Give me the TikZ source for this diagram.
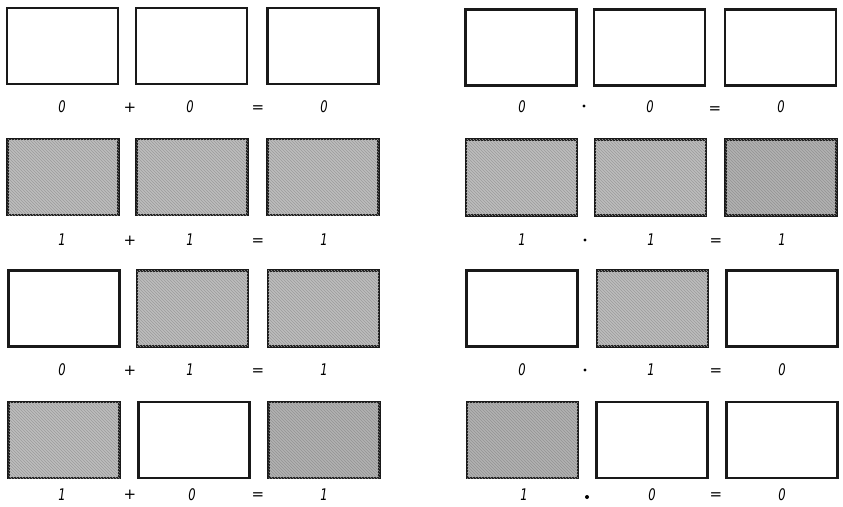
\documentclass[tikz,border=0pt]{standalone}
\usepackage{fontspec}
\newfontfamily\digitfont{DejaVu Sans}[FakeStretch=0.72]
\newfontfamily\opfont{DejaVu Sans}
\usetikzlibrary{patterns}
\begin{document}
\begin{tikzpicture}[x=1pt,y=-1pt,
  cell/.style={draw=black!90,line width=2.4pt,minimum width=111pt,minimum height=76pt,inner sep=0pt},
  on/.style={cell,fill=gray!52,postaction={pattern=north west lines,pattern color=gray!78}},
  ondark/.style={cell,fill=gray!60,postaction={pattern=north west lines,pattern color=gray!85}},
  off/.style={cell,fill=white},
  lbl/.style={font=\fontsize{16}{18}\selectfont\digitfont\itshape,inner sep=0pt},
  op/.style={font=\fontsize{15}{18}\selectfont\opfont,inner sep=0pt},
  dotop/.style={circle,fill=black,inner sep=0pt,minimum size=3.2pt}]
\useasboundingbox (0,0) rectangle (843,506);
% row 1
\node[off] (a11) at (62.5,46) {};
\node[off] (a12) at (191.5,46) {};
\node[off] (a13) at (323,46) {};
\node[off] (b11) at (521,47.5) {};
\node[off] (b12) at (649.5,47.5) {};
\node[off] (b13) at (780.5,47.5) {};
% row 2
\node[on] (a21) at (63,177) {};
\node[on] (a22) at (192,177) {};
\node[on] (a23) at (323,177) {};
\node[on] (b21) at (521.5,177.5) {};
\node[on] (b22) at (650.5,177.5) {};
\node[ondark] (b23) at (781,177.5) {};
% row 3
\node[off] (a31) at (64,308.5) {};
\node[on] (a32) at (192.5,308.5) {};
\node[on] (a33) at (323.5,308.5) {};
\node[off] (b31) at (522,308.5) {};
\node[on] (b32) at (652.5,308.5) {};
\node[off] (b33) at (782,308.5) {};
% row 4
\node[on] (a41) at (64,440) {};
\node[off] (a42) at (194,440) {};
\node[ondark] (a43) at (324,440) {};
\node[ondark] (b41) at (522.5,440) {};
\node[off] (b42) at (652,440) {};
\node[off] (b43) at (782,440) {};
% labels row 1
\node[lbl] (la11) at (62,107) {0};
\node[op]  (lp1)  at (130,108) {+};
\node[lbl] (la12) at (190,107) {0};
\node[op]  (le1)  at (258,109) {=};
\node[lbl] (la13) at (324,107) {0};
\node[lbl] (lb11) at (522,107) {0};
\node[dotop] (lm1) at (584,106) {};
\node[lbl] (lb12) at (650,107) {0};
\node[op]  (lf1)  at (715,110) {=};
\node[lbl] (lb13) at (781,107) {0};
% labels row 2
\node[lbl] (la21) at (62,240) {1};
\node[op]  (lp2)  at (130,241) {+};
\node[lbl] (la22) at (190,240) {1};
\node[op]  (le2)  at (258,242) {=};
\node[lbl] (la23) at (324,240) {1};
\node[lbl] (lb21) at (522,240) {1};
\node[dotop] (lm2) at (585,240) {};
\node[lbl] (lb22) at (651,240) {1};
\node[op]  (lf2)  at (716,242) {=};
\node[lbl] (lb23) at (782,240) {1};
% labels row 3
\node[lbl] (la31) at (62,370) {0};
\node[op]  (lp3)  at (130,371) {+};
\node[lbl] (la32) at (190,370) {1};
\node[op]  (le3)  at (258,372) {=};
\node[lbl] (la33) at (324,370) {1};
\node[lbl] (lb31) at (522,370) {0};
\node[dotop] (lm3) at (585,370) {};
\node[lbl] (lb32) at (651,370) {1};
\node[op]  (lf3)  at (716,372) {=};
\node[lbl] (lb33) at (782,370) {0};
% labels row 4
\node[lbl] (la41) at (62,495) {1};
\node[op]  (lp4)  at (130,495) {+};
\node[lbl] (la42) at (192,495) {0};
\node[op]  (le4)  at (258,496) {=};
\node[lbl] (la43) at (324,495) {1};
\node[lbl] (lb41) at (524,495) {1};
\node[dotop,minimum size=4pt] (lm4) at (587,497) {};
\node[lbl] (lb42) at (652,495) {0};
\node[op]  (lf4)  at (716,496) {=};
\node[lbl] (lb43) at (782,495) {0};
\end{tikzpicture}
\end{document}
